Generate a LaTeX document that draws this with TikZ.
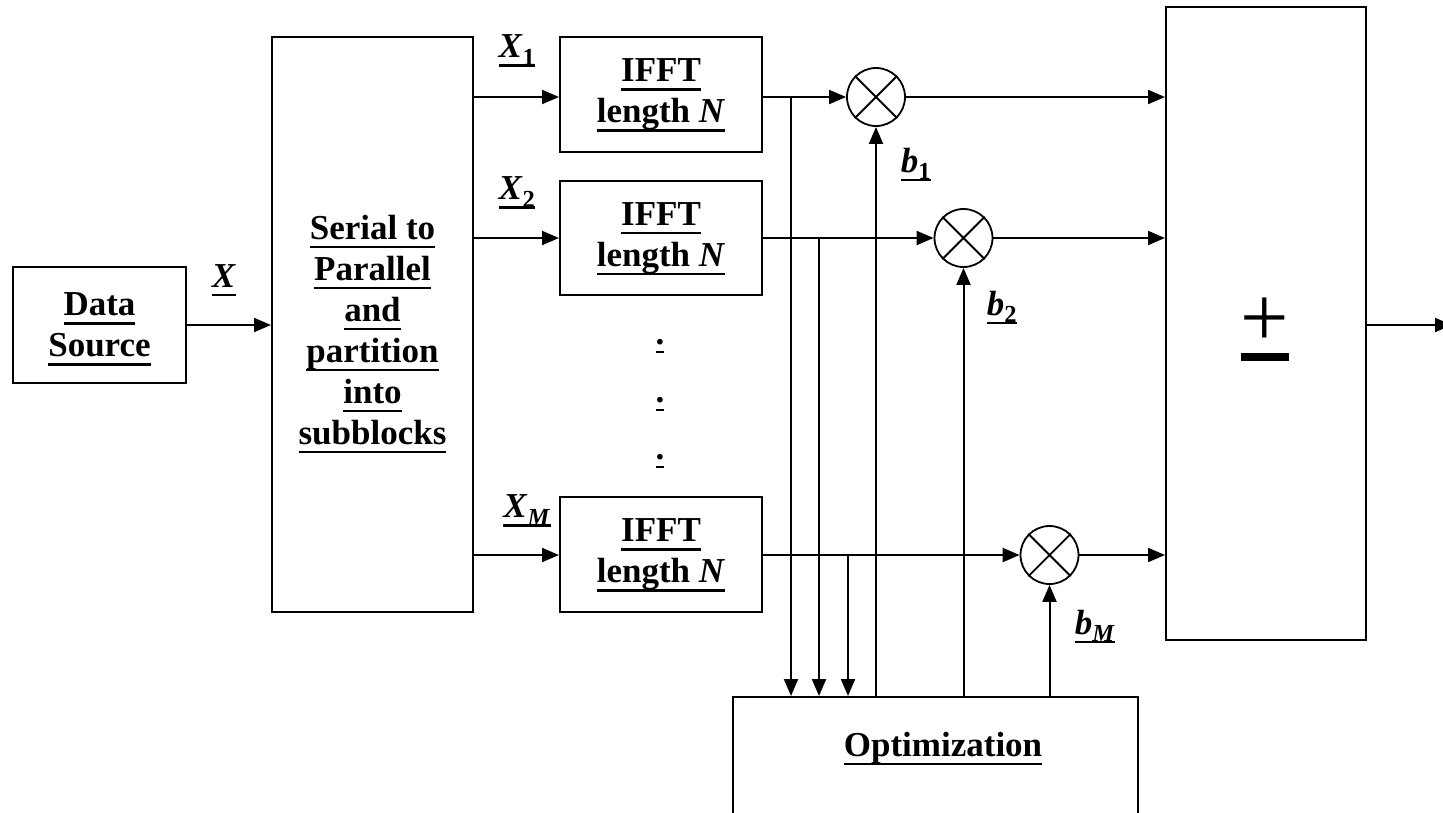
\documentclass[tikz,border=0pt]{standalone}
\usepackage{fontspec}
\setmainfont{Liberation Serif}
\usetikzlibrary{arrows.meta}
\newcommand{\uu}[1]{\setbox0=\hbox{#1}\rlap{\raisebox{-9pt}[0pt][0pt]{\rule{\wd0}{2.6pt}}}\box0}
\begin{document}
\begin{tikzpicture}[x=1pt,y=-1pt,line width=2pt,
  >={Triangle[length=17pt,width=14pt]},
  every node/.style={font=\fontsize{35}{41}\selectfont\bfseries},
  box/.style={draw,line width=2pt,align=center,inner sep=0pt},
  mult/.style={circle,draw,minimum size=58pt,inner sep=0pt,line width=1.8pt},
  lbl/.style={inner sep=0pt}]
\useasboundingbox (0,0) rectangle (1443,812);
% blocks
\node[box,minimum width=173pt,minimum height=116pt] (ds) at (99.5,325) {\uu{Data}\\\uu{Source}};
\node[box,minimum width=201pt,minimum height=575pt] (sp) at (372.5,324.5) {};
\node[lbl,align=center] (spt) at (372.5,330)
  {\uu{Serial to}\\\uu{Parallel}\\\uu{and}\\\uu{partition}\\\uu{into}\\\uu{subblocks}};
\node[box,minimum width=202pt,minimum height=115pt] (f1) at (661,94.5) {\uu{IFFT}\\\uu{length \textit{N}}};
\node[box,minimum width=202pt,minimum height=114pt] (f2) at (661,238) {\uu{IFFT}\\\uu{length \textit{N}}};
\node[box,minimum width=202pt,minimum height=115pt] (f3) at (661,554.5) {\uu{IFFT}\\\uu{length \textit{N}}};
\node[box,minimum width=200pt,minimum height=633pt] (sum) at (1266,323.5) {};
\node[box,minimum width=405pt,minimum height=133pt] (opt) at (935.5,763.5) {};
\node[lbl] (optt) at (943,748) {\uu{Optimization}};
% plus-minus
\node[lbl] (pm) at (1265,322) {\fontsize{86}{86}\selectfont\mdseries +};
\fill (1241,353) rectangle (1289,361);
% dots
\node[lbl] (d1) at (660,342) {\uu{.}};
\node[lbl] (d2) at (660,400) {\uu{.}};
\node[lbl] (d3) at (660,457) {\uu{.}};
% multipliers
\node[mult] (m1) at (876,97) {};
\node[mult] (m2) at (963.5,238) {};
\node[mult] (m3) at (1049.5,555) {};
\foreach \m in {m1,m2,m3}{
  \draw[line width=1.8pt] (\m.45) -- (\m.225) (\m.135) -- (\m.315);
}
% connectors
\draw[->] (ds.east |- 0,325) -- (sp.west |- 0,325);
\draw[->] (sp.east |- 0,97) -- (f1.west |- 0,97);
\draw[->] (sp.east |- 0,238) -- (f2.west |- 0,238);
\draw[->] (sp.east |- 0,555) -- (f3.west |- 0,555);
\draw[->] (f1.east |- m1.west) -- (m1.west);
\draw[->] (f2.east |- m2.west) -- (m2.west);
\draw[->] (f3.east |- m3.west) -- (m3.west);
\draw[->] (m1.east) -- (sum.west |- m1.east);
\draw[->] (m2.east) -- (sum.west |- m2.east);
\draw[->] (m3.east) -- (sum.west |- m3.east);
\coordinate (out) at (1452,325);
\draw[->] (sum.east |- out) -- (out);
% taps
\coordinate (t1) at (791,97);
\coordinate (t2) at (819,238);
\coordinate (t3) at (848,555);
\draw[->] (t1) -- (t1 |- opt.north);
\draw[->] (t2) -- (t2 |- opt.north);
\draw[->] (t3) -- (t3 |- opt.north);
\draw[->] (opt.north -| m1.south) -- (m1.south);
\draw[->] (opt.north -| m2.south) -- (m2.south);
\draw[->] (opt.north -| m3.south) -- (m3.south);
% labels
\node[lbl] (lx) at (224,276) {\uu{\textit{X}}};
\node[lbl] (lx1) at (517,50) {\uu{\textit{X}\textsubscript{1}}};
\node[lbl] (lx2) at (517,192) {\uu{\textit{X}\textsubscript{2}}};
\node[lbl] (lxm) at (527,510) {\uu{\textit{X}\textsubscript{\textit{M}}}};
\node[lbl] (lb1) at (916,164) {\uu{\textit{b}\textsubscript{1}}};
\node[lbl] (lb2) at (1002,307) {\uu{\textit{b}\textsubscript{2}}};
\node[lbl] (lbm) at (1095,626) {\uu{\textit{b}\textsubscript{\textit{M}}}};
\end{tikzpicture}
\end{document}
